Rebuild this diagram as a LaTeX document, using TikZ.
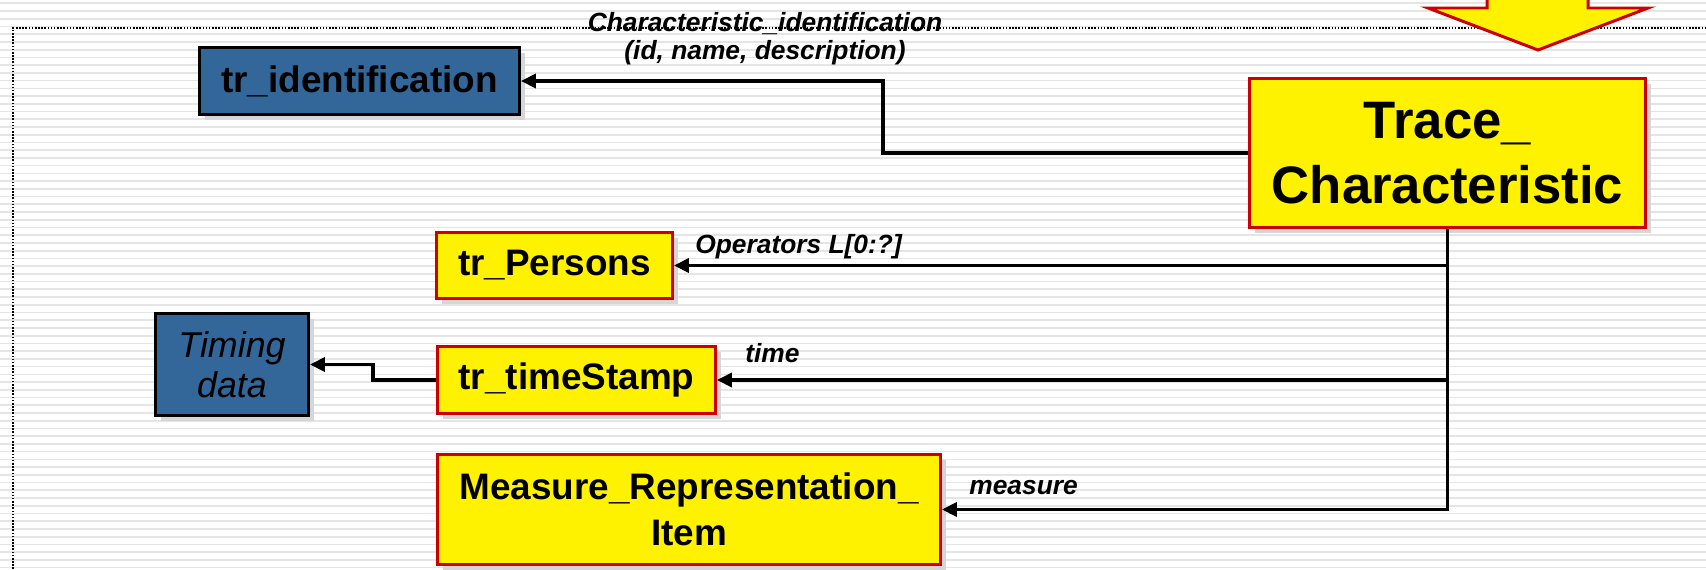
\documentclass[tikz,border=0pt]{standalone}
\usepackage{fontspec}
\setmainfont{Liberation Sans}
\usepackage{xcolor}
\usepackage{tikz}
\usetikzlibrary{arrows.meta,shadows}
\usetikzlibrary{positioning}

\definecolor{extblue}{RGB}{51,102,153}
\definecolor{boxred}{RGB}{204,0,0}

\begin{document}
\begin{tikzpicture}[x=0.02cm,y=-0.02cm,
  ent/.style={draw=boxred,fill=yellow,line width=1.7pt,align=center,inner sep=0pt,
    font=\fontsize{21}{26}\selectfont\bfseries,
    general shadow={fill=black!16,shadow xshift=3pt,shadow yshift=-3pt}},
  ext/.style={ent,draw=black,fill=extblue},
  link/.style={line width=1.9pt,->,>={Triangle[length=8.5pt,width=8pt]}},
  role/.style={font=\fontsize{15}{16}\selectfont\bfseries\itshape,inner sep=0pt},
  stripe/.style={black!10,line width=0.95pt}]
\useasboundingbox (0,0) rectangle (1706,569);
% striped page background
\fill[white] (0,0) rectangle (1706,569);
\foreach \y in {3.3,11.03,...,569}
  \draw[stripe] (0,\y) -- (1706,\y);
\draw[line width=0.9pt,dash pattern=on 0.9pt off 0.9pt] (13,569) -- (13,28) -- (1706,28);
% big arrow coming in from above
\draw[boxred,fill=yellow,line width=1.7pt,line join=miter]
  (1487,-10) -- (1487,8) -- (1428,8) -- (1538,50) -- (1648,8) -- (1588,8) -- (1588,-10);

\node[ent,minimum width=7.92cm,minimum height=2.98cm,font=\fontsize{30}{37}\selectfont\bfseries]
  (trace) at (1447.5,153) {Trace\_\\Characteristic};
\node[ext,minimum width=6.4cm,minimum height=1.34cm] (ident) at (359.5,81) {tr\_identification};
\node[ent,minimum width=4.72cm,minimum height=1.32cm] (persons) at (554.5,265.5) {tr\_Persons};
\node[ent,minimum width=5.56cm,minimum height=1.34cm] (stamp) at (576.5,380) {tr\_timeStamp};
\node[ext,minimum width=3.06cm,minimum height=2.04cm,font=\fontsize{20.4}{22.7}\selectfont\itshape]
  (timing) at (232,364.5) {Timing\\data};
\node[ent,minimum width=10.06cm,minimum height=2.2cm] (measure) at (689,509.5) {Measure\_Representation\_\\Item};

% attributes of the characteristic
\draw[link] (trace.west) -- ++(-365,0) |- (ident.east);
\draw[link] (trace.south) |- (persons.east);
\draw[link] (trace.south) |- (stamp.east);
\draw[link] (trace.south) |- (measure.east);
\draw[link] (stamp.west) -- ++(-63,0) |- (timing.east);

\node[role,align=center,anchor=north] (lident) at (765,12) {Characteristic\_identification\\(id, name, description)};
\node[role,anchor=base west] (lops) at (695,253) {Operators L[0:?]};
\node[role,anchor=base west] (ltime) at (745,362) {time};
\node[role,anchor=base west] (lmeas) at (969,494) {measure};
\end{tikzpicture}
\end{document}
